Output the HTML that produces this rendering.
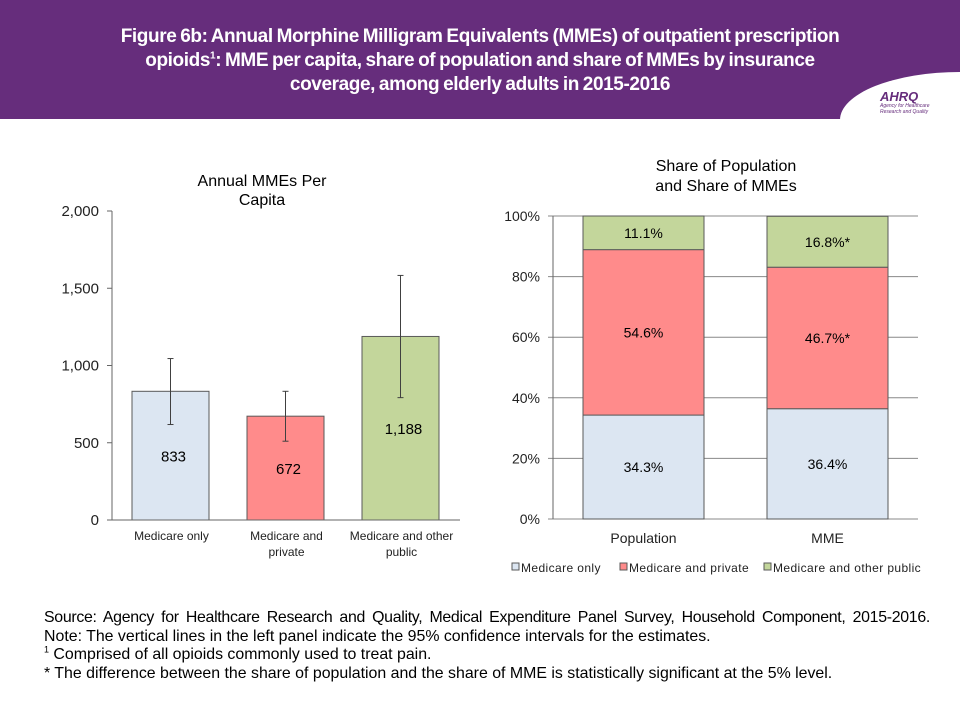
<!DOCTYPE html>
<html><head><meta charset="utf-8"><style>
body{margin:0;width:960px;height:720px;background:#fff;font-family:"Liberation Sans",sans-serif;overflow:hidden;position:relative}
#hdr{position:absolute;left:0;top:0;width:960px;height:119px;background:#662d7c}
#ttl{position:absolute;left:40px;top:25px;width:880px;text-align:center;color:#fff;font-weight:bold;font-size:19px;line-height:24px;letter-spacing:-0.4px;word-spacing:-1px;white-space:nowrap}
#logo{position:absolute;left:840px;top:72px;width:120px;height:48px;background:#fff;border-radius:100% 0 0 0 / 100% 0 0 0;overflow:hidden}
#notes{position:absolute;left:44px;top:609px;font-size:15.9px;line-height:18.5px;color:#000;width:886px}
sup{line-height:0}
</style></head><body>
<div id="hdr"></div>
<div id="ttl">Figure 6b: Annual Morphine Milligram Equivalents (MMEs) of outpatient prescription<br>opioids<sup style="font-size:10px">1</sup>: MME per capita, share of population and share of MMEs by insurance<br>coverage, among elderly adults in 2015-2016</div>
<div id="logo"><div style="position:absolute;left:40px;top:17px;font-size:13px;font-weight:bold;font-style:italic;color:#662d7c">AHRQ</div><div style="position:absolute;left:40px;top:31px;font-size:5px;font-style:italic;color:#662d7c;line-height:6px">Agency for Healthcare<br>Research and Quality</div></div>
<svg id="chart" width="960" height="720" style="position:absolute;left:0;top:0" font-family="Liberation Sans, sans-serif"></svg>
<div id="notes"><div style="text-align:justify;text-align-last:justify;letter-spacing:-0.3px">Source: Agency for Healthcare Research and Quality, Medical Expenditure Panel Survey, Household Component, 2015-2016.</div>Note: The vertical lines in the left panel indicate the 95% confidence intervals for the estimates.<br><sup style="font-size:9px">1</sup> Comprised of all opioids commonly used to treat pain.<br>* The difference between the share of population and the share of MME is statistically significant at the 5% level.</div>
<script>
const leftCats=["Medicare only","Medicare and private","Medicare and other public"];
const leftCatLines=[["Medicare only"],["Medicare and","private"],["Medicare and other","public"]];
const leftVals=[833,672,1188];
const leftLow=[618,510,792];
const leftHigh=[1045,833,1583];
const leftLabels=["833","672","1,188"];
const leftTicks=[0,500,1000,1500,2000];
const leftTickLabels=["0","500","1,000","1,500","2,000"];
const rightCats=["Population","MME"];
const seriesNames=["Medicare only","Medicare and private","Medicare and other public"];
const sOnly=[34.3,36.4];
const sPrivate=[54.6,46.7];
const sOther=[11.1,16.8];
const rightLabels=[["34.3%","36.4%"],["54.6%","46.7%*"],["11.1%","16.8%*"]];
const rightTicks=[0,20,40,60,80,100];
const colors=["#dce6f2","#ff8b8b","#c3d69b"];
const svg=document.getElementById('chart');const NS="http://www.w3.org/2000/svg";
function mk(t,a,txt){const e=document.createElementNS(NS,t);for(const k in a)e.setAttribute(k,a[k]);if(txt!=null)e.textContent=txt;svg.appendChild(e);return e;}
const ly=v=>520-v*(309/2000);
const lx0=112,lbw=77,lstep=115,loff=20;
let e=mk('text',{x:262,y:186,'text-anchor':'middle','font-size':16},'Annual MMEs Per');

e=mk('text',{x:262,y:205,'text-anchor':'middle','font-size':16},'Capita');

e=mk('line',{x1:lx0,y1:211,x2:lx0,y2:520,stroke:'#666'});

leftTicks.forEach((t,i)=>{
 e=mk('line',{x1:lx0-5,y1:ly(t),x2:lx0,y2:ly(t),stroke:'#666'});
 
 e=mk('text',{x:lx0-13,y:ly(t)+5,'text-anchor':'end','font-size':15,fill:'#222'},leftTickLabels[i]);
 
});
leftVals.forEach((v,i)=>{
 const x=lx0+loff+i*lstep;
 e=mk('rect',{x:x,y:ly(v),width:lbw,height:520-ly(v),fill:colors[i],stroke:'#595959','stroke-width':1});
 
 const cx=x+lbw/2;
 e=mk('line',{x1:cx,y1:ly(leftLow[i]),x2:cx,y2:ly(leftHigh[i]),stroke:'#404040'});
 
 [leftLow[i],leftHigh[i]].forEach(q=>{e=mk('line',{x1:cx-3,y1:ly(q),x2:cx+3,y2:ly(q),stroke:'#404040'});
 });
 e=mk('text',{x:cx+3,y:ly(v/2)+6,'text-anchor':'middle','font-size':15},leftLabels[i]);
 
 leftCatLines[i].forEach((l,j)=>{e=mk('text',{x:cx+1,y:540+j*16,'text-anchor':'middle','font-size':12,fill:'#222'},l);
 });
});
e=mk('line',{x1:lx0-5,y1:520,x2:460,y2:520,stroke:'#666'});

const ry=v=>519-v*(303/100);
const rx0=553,rbw=121,rstep=184,roff=30;
e=mk('text',{x:726,y:171,'text-anchor':'middle','font-size':16},'Share of Population');

e=mk('text',{x:726,y:191,'text-anchor':'middle','font-size':16},'and Share of MMEs');

rightTicks.forEach(t=>{
 e=mk('line',{x1:rx0-5,y1:ry(t),x2:918,y2:ry(t),stroke:'#888'});
 
 e=mk('text',{x:rx0-13,y:ry(t)+5,'text-anchor':'end','font-size':14,fill:'#222'},t+'%');
 
});
e=mk('line',{x1:rx0,y1:216,x2:rx0,y2:519,stroke:'#666'});

const series=[sOnly,sPrivate,sOther];
rightCats.forEach((c,i)=>{
 const x=rx0+roff+i*rstep;let base=0;
 series.forEach((s,k)=>{
  const y1=ry(base),y2=ry(base+s[i]);
  e=mk('rect',{x:x,y:y2,width:rbw,height:y1-y2,fill:colors[k],stroke:'#595959','stroke-width':1});
  
  e=mk('text',{x:x+rbw/2,y:(y1+y2)/2+5,'text-anchor':'middle','font-size':14},rightLabels[k][i]);
  
  base+=s[i];
 });
 e=mk('text',{x:x+rbw/2,y:543,'text-anchor':'middle','font-size':14,fill:'#222'},c);
 
});
const lgx=[512,620,764];
seriesNames.forEach((n,k)=>{
 e=mk('rect',{x:lgx[k],y:563,width:7,height:7,fill:colors[k],stroke:'#595959'});
 
 e=mk('text',{x:lgx[k]+9,y:572,'font-size':12,fill:'#222','letter-spacing':'0.4'},n);
 
});
</script>
</body></html>
